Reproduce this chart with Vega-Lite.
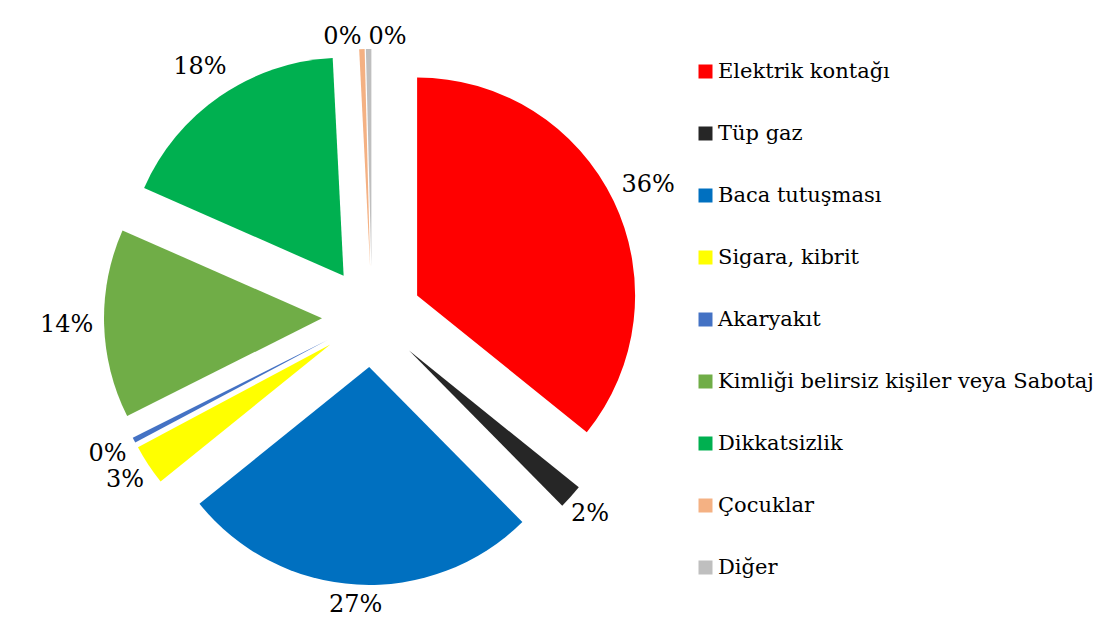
{
  "$schema": "https://vega.github.io/schema/vega-lite/v6.json",
  "width": 744,
  "height": 634,
  "autosize": "none",
  "padding": {"left": 0, "top": 0, "right": 371, "bottom": 0},
  "background": "white",
  "config": {
    "view": {"stroke": null},
    "font": "DejaVu Serif",
    "text": {"font": "DejaVu Serif", "fontSize": 24},
    "legend": {
      "orient": "none",
      "legendX": 695,
      "legendY": 61,
      "padding": 0,
      "symbolType": "square",
      "symbolSize": 196,
      "symbolStrokeWidth": 0,
      "labelFont": "DejaVu Serif",
      "labelFontSize": 21,
      "labelColor": "black",
      "labelOffset": 2,
      "labelLimit": 500,
      "rowPadding": 40
    }
  },
  "data": {
    "values": [
      {"category": "Elektrik kontağı", "value": 0.358, "order": 1},
      {"category": "Tüp gaz", "value": 0.018, "order": 2},
      {"category": "Baca tutuşması", "value": 0.266, "order": 3},
      {"category": "Sigara, kibrit", "value": 0.030, "order": 4},
      {"category": "Akaryakıt", "value": 0.004, "order": 5},
      {"category": "Kimliği belirsiz kişiler veya Sabotaj", "value": 0.140, "order": 6},
      {"category": "Dikkatsizlik", "value": 0.176, "order": 7},
      {"category": "Çocuklar", "value": 0.004, "order": 8},
      {"category": "Diğer", "value": 0.004, "order": 9}
    ]
  },
  "encoding": {
    "theta": {"field": "value", "type": "quantitative", "stack": true},
    "order": {"field": "order", "type": "quantitative"}
  },
  "layer": [
    {
      "mark": {
        "type": "arc",
        "outerRadius": 218,
        "xOffset": {"expr": "50*sin((scale('theta', datum.value_start) + scale('theta', datum.value_end))/2)"},
        "yOffset": {"expr": "-50*cos((scale('theta', datum.value_start) + scale('theta', datum.value_end))/2)"}
      },
      "encoding": {
        "color": {
          "field": "category",
          "type": "nominal",
          "title": null,
          "scale": {
            "domain": ["Elektrik kontağı", "Tüp gaz", "Baca tutuşması", "Sigara, kibrit", "Akaryakıt", "Kimliği belirsiz kişiler veya Sabotaj", "Dikkatsizlik", "Çocuklar", "Diğer"],
            "range": ["#FF0000", "#262626", "#0070C0", "#FFFF00", "#4472C4", "#70AD47", "#00B050", "#F4B183", "#BFBFBF"]
          }
        }
      }
    },
    {
      "mark": {
        "type": "text",
        "radius": {"expr": "306 - 18*max(0, -cos((scale('theta', datum.value_start) + scale('theta', datum.value_end))/2)) - 26*pow(max(0, cos((scale('theta', datum.value_start) + scale('theta', datum.value_end))/2)), 12)"},
        "font": "DejaVu Serif",
        "fontSize": 24,
        "color": "black",
        "baseline": "middle",
        "align": {"expr": "datum.category === 'Çocuklar' ? 'right' : datum.category === 'Diğer' ? 'left' : 'center'"}
      },
      "encoding": {
        "text": {"field": "value", "type": "quantitative", "format": ".0%"}
      }
    }
  ]
}
